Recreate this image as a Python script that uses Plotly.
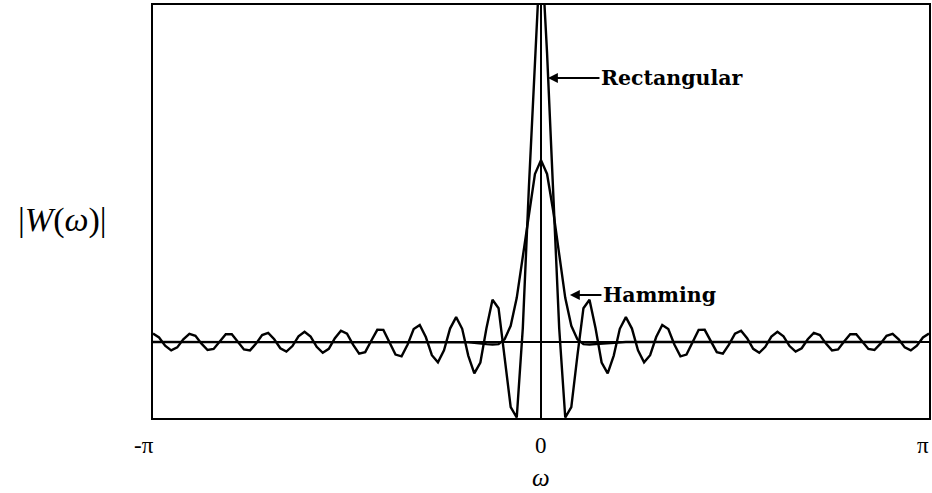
import numpy as np
import plotly.graph_objects as go

# sample index k = -64..64 across [-pi, pi]
k_index = list(range(-64, 65))

rect_values = [
    1.00, 0.54, -0.43, -1.00, -0.64,
    0.32, 0.98, 0.74, -0.20, -0.96, -0.83, 0.08, 0.92, 0.92, 0.05,
    -0.88, -1.00, -0.19, 0.82, 1.08, 0.33, -0.75, -1.15, -0.48, 0.67,
    1.22, 0.64, -0.57, -1.29, -0.81, 0.45, 1.35, 1.00, -0.32, -1.40,
    -1.21, 0.15, 1.45, 1.44, 0.04, -1.50, -1.71, -0.29, 1.54, 2.03,
    0.59, -1.57, -2.43, -1.00, 1.60, 2.97, 1.57, -1.62, -3.74, -2.45,
    1.64, 5.03, 4.03, -1.66, -7.76, -9.0, 1.66, 18.42, 34.43,
    48.0,
    34.43, 18.42, 1.66, -9.0, -7.76, -1.66, 4.03, 5.03, 1.64,
    -2.45, -3.74, -1.62, 1.57, 2.97, 1.60, -1.00, -2.43, -1.57, 0.59,
    2.03, 1.54, -0.29, -1.71, -1.50, 0.04, 1.44, 1.45, 0.15, -1.21,
    -1.40, -0.32, 1.00, 1.35, 0.45, -0.81, -1.29, -0.57, 0.64, 1.22,
    0.67, -0.48, -1.15, -0.75, 0.33, 1.08, 0.82, -0.19, -1.00, -0.88,
    0.05, 0.92, 0.92, 0.08, -0.83, -0.96, -0.20, 0.74, 0.98, 0.32,
    -0.64, -1.00, -0.43, 0.54, 1.00,
]

hamming_values = [
    0.00, 0.00, 0.00, 0.00, 0.00, 0.00, 0.00, 0.00, 0.00, 0.00,
    0.00, 0.00, 0.00, 0.00, 0.00, 0.00, 0.00, 0.00, 0.00, 0.00,
    0.00, 0.00, 0.00, 0.00, 0.00, 0.00, 0.00, 0.00, 0.00, 0.00,
    0.00, 0.00, 0.00, 0.00, 0.00, 0.00, 0.00, 0.00, 0.00, 0.00,
    0.00, 0.00, 0.00, 0.00, 0.00, 0.00, 0.00, 0.00, 0.00, 0.00,
    0.00, 0.00, -0.05, -0.10, -0.20, -0.25, -0.30, -0.25, 0.34, 1.93,
    5.26, 10.20, 15.68, 20.03,
    21.68,
    20.03, 15.68, 10.20, 5.26, 1.93, 0.34, -0.25, -0.30, -0.25, -0.20,
    -0.10, -0.05, 0.00, 0.00, 0.00, 0.00, 0.00, 0.00, 0.00, 0.00,
    0.00, 0.00, 0.00, 0.00, 0.00, 0.00, 0.00, 0.00, 0.00, 0.00,
    0.00, 0.00, 0.00, 0.00, 0.00, 0.00, 0.00, 0.00, 0.00, 0.00,
    0.00, 0.00, 0.00, 0.00, 0.00, 0.00, 0.00, 0.00, 0.00, 0.00,
    0.00, 0.00, 0.00, 0.00, 0.00, 0.00, 0.00, 0.00, 0.00, 0.00,
    0.00, 0.00,
]

tick_labels = ["-\u03c0", "0", "\u03c0"]
series_labels = ["Rectangular", "Hamming"]

omega = [np.pi * k / 64 for k in k_index]

SERIF = "Liberation Serif"
LABEL_FONT = "DejaVu Serif"

fig = go.Figure()
fig.add_trace(go.Scatter(x=omega, y=hamming_values, mode="lines",
                         line=dict(color="black", width=2.4), showlegend=False,
                         hoverinfo="skip"))
fig.add_trace(go.Scatter(x=omega, y=rect_values, mode="lines",
                         line=dict(color="black", width=2.4), showlegend=False,
                         hoverinfo="skip"))

y_lo, y_hi = -9.06, 40.17

fig.update_layout(
    width=932, height=493,
    margin=dict(l=153, r=1, t=5, b=75),
    paper_bgcolor="white", plot_bgcolor="white",
    xaxis=dict(range=[-np.pi, np.pi], showgrid=False, showticklabels=False,
               ticks="", zeroline=True, zerolinecolor="black", zerolinewidth=1.5,
               showline=True, linecolor="black", linewidth=2, mirror=True),
    yaxis=dict(range=[y_lo, y_hi], showgrid=False, showticklabels=False,
               ticks="", zeroline=True, zerolinecolor="black", zerolinewidth=2,
               showline=True, linecolor="black", linewidth=2, mirror=True),
)

# tick labels
for xv, txt, xs in zip([-np.pi, 0, np.pi], tick_labels, [-9, 0, -6]):
    fig.add_annotation(x=xv, y=0, xref="x", yref="paper", text=txt,
                       showarrow=False, yshift=-27, xshift=xs,
                       xanchor="center", yanchor="middle",
                       font=dict(family=SERIF, size=23, color="black"))

# axis titles
fig.add_annotation(x=0, y=0, xref="x", yref="paper", text="<i>\u03c9</i>",
                   showarrow=False, yshift=-59, xanchor="center", yanchor="middle",
                   font=dict(family=SERIF, size=25, color="black"))
fig.add_annotation(x=-0.117, y=0.479, xref="paper", yref="paper",
                   text="|<i>W</i>(<i>\u03c9</i>)|", showarrow=False,
                   xanchor="center", yanchor="middle",
                   font=dict(family=SERIF, size=34, color="black"))

# series labels with arrows
px_per_rad = 778 / (2 * np.pi)
px_per_unit = 413 / (y_hi - y_lo)

def px_to_data(px, py):
    return (px - 543) / px_per_rad, (342 - py) / px_per_unit

for (tip_px, tip_py, tail_px), txt in zip([(550, 78, 603), (572, 295, 605)], series_labels):
    tx, ty = px_to_data(tip_px, tip_py)
    fig.add_annotation(x=tx, y=ty, xref="x", yref="y", text="",
                       showarrow=True, ax=tail_px - tip_px, ay=0,
                       arrowhead=2, arrowsize=0.9, arrowwidth=2.2,
                       arrowcolor="black", standoff=0)
    lx, ly = px_to_data(tail_px, tip_py)
    fig.add_annotation(x=lx, y=ly, xref="x", yref="y", text="<b>%s</b>" % txt,
                       showarrow=False, xanchor="left", yanchor="middle",
                       xshift=-2,
                       font=dict(family=LABEL_FONT, size=20.5, color="black"))

fig.write_html("out.html", config={"displayModeBar": False},
               post_script="document.body.style.margin='0px';document.body.style.overflow='hidden';")
